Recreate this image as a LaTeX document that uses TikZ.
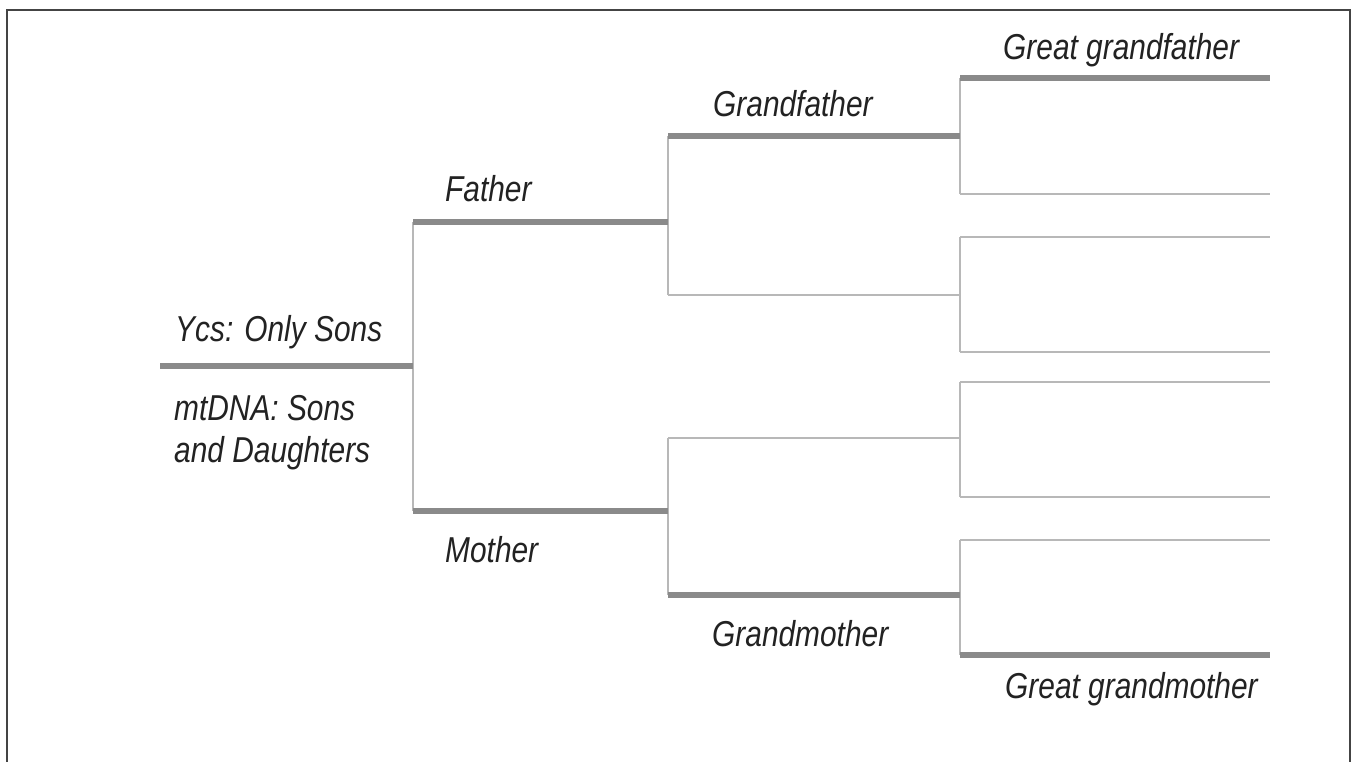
\documentclass[tikz,border=0pt]{standalone}
\usepackage{fontspec}
\setmainfont{Liberation Sans}
\newfontfamily\lblfont[FakeStretch=0.83]{Liberation Sans}
\definecolor{heavygray}{HTML}{8A8A8A}
\definecolor{lightgray}{HTML}{B8B8B8}
\definecolor{framegray}{HTML}{444444}
\definecolor{textgray}{HTML}{222222}
\begin{document}
\begin{tikzpicture}[x=1pt,y=-1pt,
  heavyline/.style={draw=heavygray,line width=6pt,line cap=butt},
  lightline/.style={draw=lightgray,line width=2pt,line cap=butt},
  lbl/.style={anchor=base west,inner sep=0pt,text=textgray,
    font=\lblfont\fontsize{36}{42}\selectfont\itshape,align=left}]
\useasboundingbox (0,0) rectangle (1354,762);
% frame (bottom edge is cut off)
\draw[framegray,line width=1.6pt] (7,770) -- (7,10) -- (1350,10) -- (1350,770);

% coordinates
\coordinate (r0) at (160,366);  \coordinate (r1) at (413,366);
\coordinate (f0) at (413,222);  \coordinate (f1) at (668,222);
\coordinate (m0) at (413,511);  \coordinate (m1) at (668,511);
\coordinate (gf0) at (668,136); \coordinate (gf1) at (960,136);
\coordinate (fm0) at (668,295); \coordinate (fm1) at (960,295);
\coordinate (mf0) at (668,438); \coordinate (mf1) at (960,438);
\coordinate (gm0) at (668,595); \coordinate (gm1) at (960,595);
\foreach \i/\y in {1/78,2/194,3/237,4/352,5/382,6/497,7/540,8/655}{
  \coordinate (g\i a) at (960,\y);
  \coordinate (g\i b) at (1270,\y);
}

% vertical connectors
\draw[lightline] (f0) -- (m0);
\draw[lightline] (gf0) -- (fm0);
\draw[lightline] (mf0) -- (gm0);
\draw[lightline] (g1a) -- (g2a);
\draw[lightline] (g3a) -- (g4a);
\draw[lightline] (g5a) -- (g6a);
\draw[lightline] (g7a) -- (g8a);

% thin horizontals
\draw[lightline] (fm0) -- (fm1);
\draw[lightline] (mf0) -- (mf1);
\foreach \i in {2,3,4,5,6,7}{ \draw[lightline] (g\i a) -- (g\i b); }

% thick horizontals
\draw[heavyline] (r0) -- (r1);
\draw[heavyline] (f0) -- (f1);
\draw[heavyline] (m0) -- (m1);
\draw[heavyline] (gf0) -- (gf1);
\draw[heavyline] (gm0) -- (gm1);
\draw[heavyline] (g1a) -- (g1b);
\draw[heavyline] (g8a) -- (g8b);

% labels
\node[lbl] (lggf) at (1003,60) {Great grandfather};
\node[lbl] (lgf) at (713,117) {Grandfather};
\node[lbl] (lf) at (445,201) {Father};
\node[lbl] (lycs) at (175,341) {Ycs: Only Sons};
\node[lbl] (lmt1) at (174,420) {mtDNA: Sons};
\node[lbl] (lmt2) at (174,462) {and Daughters};
\node[lbl] (lm) at (445,562) {Mother};
\node[lbl] (lgm) at (712,646) {Grandmother};
\node[lbl] (lggm) at (1005,698) {Great grandmother};
\end{tikzpicture}
\end{document}
